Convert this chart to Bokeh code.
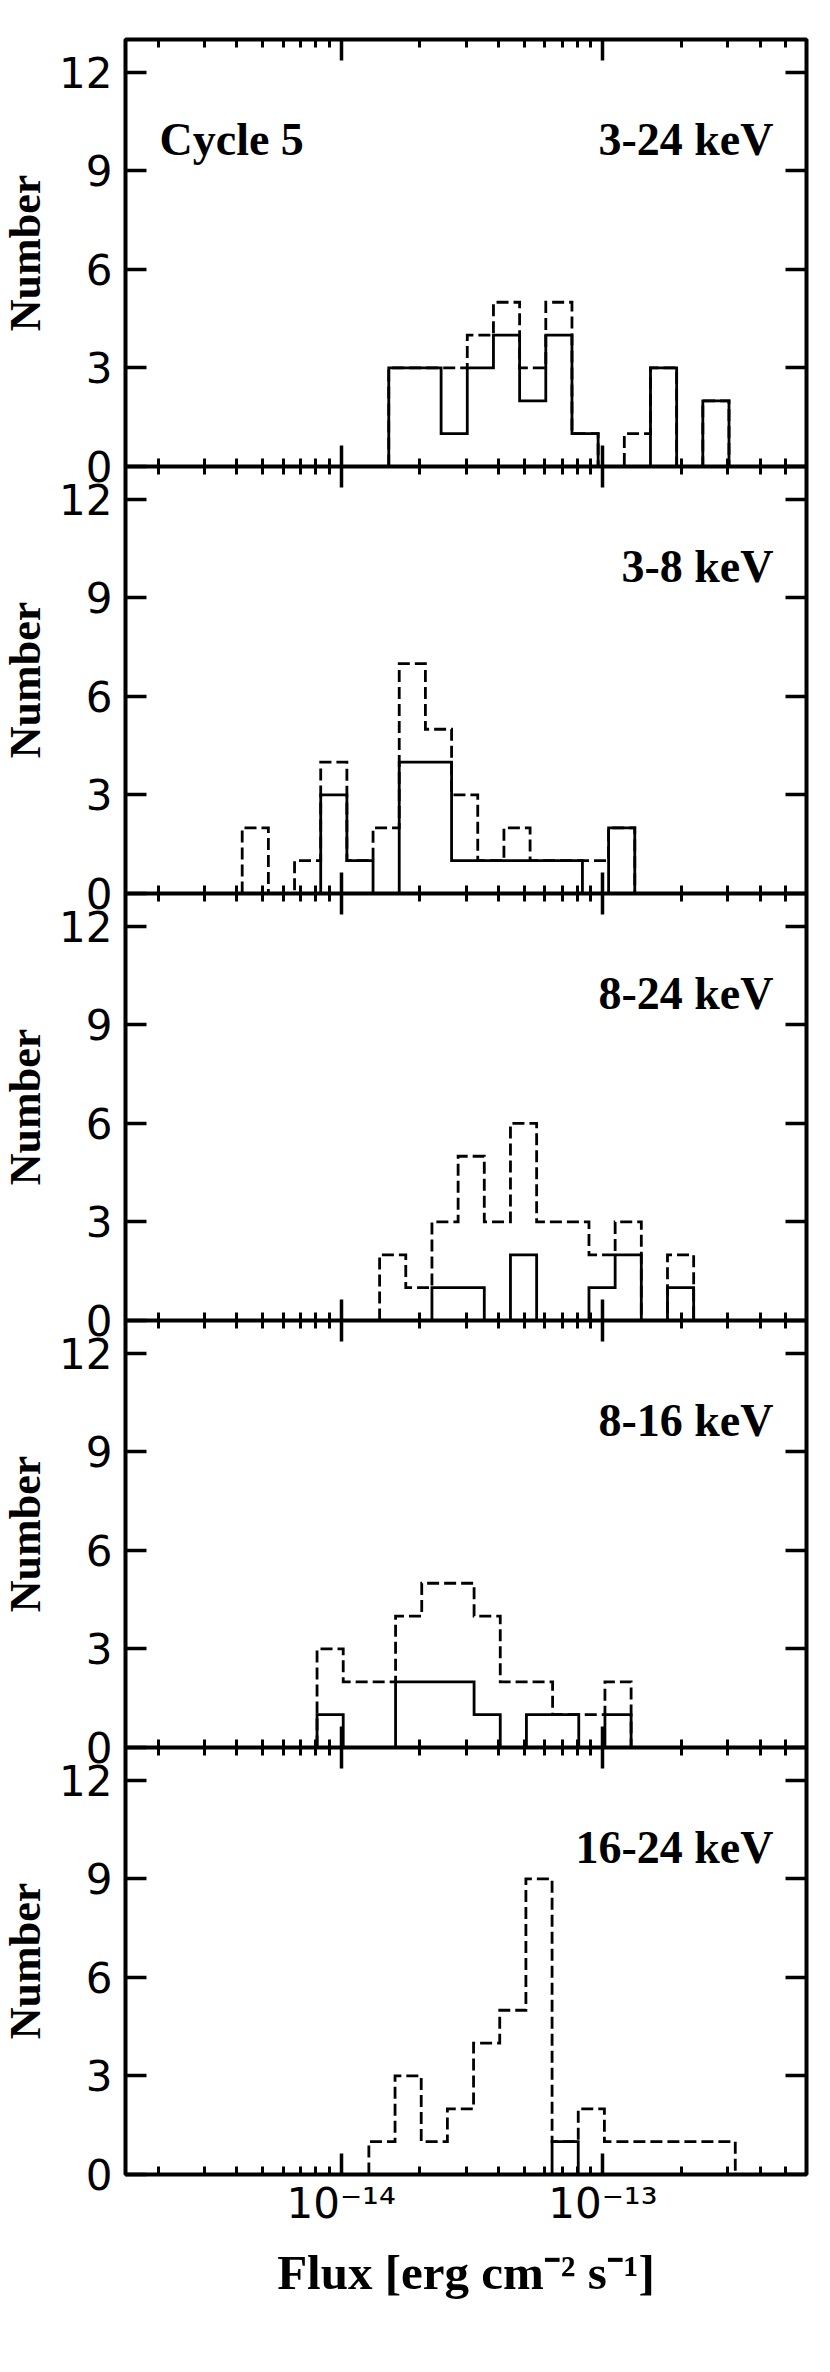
import numpy as np
from bokeh.plotting import figure
from bokeh.models import Range1d, FixedTicker, LogAxis, LinearAxis, Label
from bokeh.layouts import row
from bokeh.embed import file_html
from bokeh.resources import INLINE

# ---------------- data ----------------
x_lo, x_hi = 1.5e-15, 6e-13
y_panel_max = 13
y_ticks = [0, 3, 6, 9, 12]
x_major = [1e-14, 1e-13]
x_minor = [2e-15, 3e-15, 4e-15, 5e-15, 6e-15, 7e-15, 8e-15, 9e-15,
           2e-14, 3e-14, 4e-14, 5e-14, 6e-14, 7e-14, 8e-14, 9e-14,
           2e-13, 3e-13, 4e-13, 5e-13]
x_tick_labels = ["10\u207b\u00b9\u2074", "10\u207b\u00b9\u00b3"]

band_labels = ["3-24 keV", "3-8 keV", "8-24 keV", "8-16 keV", "16-24 keV"]
cycle_label = "Cycle 5"
x_title = "Flux [erg cm\u207b\u00b2 s\u207b\u00b9]"
y_title = "Number"

bin_width_dex = 0.1
first_edge_log = [-13.818, -14.378, -13.853, -14.092, -13.894]

solid_3_24 = [3, 3, 1, 3, 4, 2, 4, 1, 0, 0, 3, 0, 2]
dashed_3_24 = [3, 3, 3, 4, 5, 3, 5, 1, 0, 1, 3, 0, 2]
solid_3_8 = [0, 0, 0, 3, 1, 0, 4, 4, 1, 1, 1, 1, 1, 0, 2]
dashed_3_8 = [2, 0, 1, 4, 1, 2, 7, 5, 3, 1, 2, 1, 1, 1, 2]
solid_8_24 = [0, 0, 1, 1, 0, 2, 0, 0, 1, 2, 0, 1]
dashed_8_24 = [2, 1, 3, 5, 3, 6, 3, 3, 2, 3, 0, 2]
solid_8_16 = [1, 0, 0, 2, 2, 2, 1, 0, 1, 1, 0, 1]
dashed_8_16 = [3, 2, 2, 4, 5, 5, 4, 2, 2, 1, 1, 2]
solid_16_24 = [0, 0, 0, 0, 0, 0, 0, 1, 0, 0, 0, 0, 0, 0]
dashed_16_24 = [1, 3, 1, 2, 4, 5, 9, 1, 2, 1, 1, 1, 1, 1]

solid_all = [solid_3_24, solid_3_8, solid_8_24, solid_8_16, solid_16_24]
dashed_all = [dashed_3_24, dashed_3_8, dashed_8_24, dashed_8_16, dashed_16_24]

# ---------------- layout / style ----------------
n_pan = len(band_labels)
W_SIDE = 55                 # narrow strip holding the rotated "Number" titles
W, MB_L, MB_R = 755, 70, 4  # main figure
MB_T, MB_B = 39, 150
FRAME_H = 427 * n_pan
H = MB_T + FRAME_H + MB_B
FRAME_W = W - MB_L - MB_R
PX_PER_UNIT = FRAME_H / (y_panel_max * n_pan)
FRAME_LEFT_PAGE = 8 + W_SIDE + MB_L

log_lo, log_hi = np.log10(x_lo), np.log10(x_hi)


def x_at_page(px):
    """data x for a page pixel column"""
    return 10 ** (log_lo + (px - FRAME_LEFT_PAGE) / FRAME_W * (log_hi - log_lo))


SERIF = "Liberation Serif"
SANS = "DejaVu Sans"
LW_HIST = 2.8
LW_FRAME = 4
MAJ_LEN, MIN_LEN = 21, 8

p = figure(width=W, height=H, x_axis_type="log",
           x_range=Range1d(x_lo, x_hi), y_range=Range1d(0, y_panel_max * n_pan),
           output_backend="svg", toolbar_location=None,
           min_border_left=MB_L, min_border_right=MB_R,
           min_border_top=MB_T, min_border_bottom=MB_B)
p.xgrid.visible = False
p.ygrid.visible = False
p.outline_line_color = "black"
p.outline_line_width = LW_FRAME
p.background_fill_color = "white"
p.border_fill_color = "white"

xticker = FixedTicker(ticks=x_major, minor_ticks=x_minor)
bases = [(n_pan - 1 - i) * y_panel_max for i in range(n_pan)]
y_all_ticks = [float(b + t) for b in bases for t in y_ticks]
yticker = FixedTicker(ticks=y_all_ticks, minor_ticks=[])
y_overrides = {float(b + t): str(t) for b in bases for t in y_ticks}


def style_x(ax, tick_out):
    ax.ticker = xticker
    ax.axis_line_color = None
    ax.major_tick_in = MAJ_LEN
    ax.major_tick_out = MAJ_LEN if tick_out else 0
    ax.minor_tick_in = MIN_LEN
    ax.minor_tick_out = MIN_LEN if tick_out else 0
    ax.major_tick_line_width = 3.5
    ax.minor_tick_line_width = 3
    ax.major_tick_line_color = "black"
    ax.minor_tick_line_color = "black"


def style_y(ax):
    ax.ticker = yticker
    ax.axis_line_color = None
    ax.major_tick_in = MAJ_LEN
    ax.major_tick_out = 0
    ax.minor_tick_line_color = None
    ax.major_tick_line_width = 3.5
    ax.major_tick_line_color = "black"


# bottom axis with labels
bx = p.xaxis[0]
style_x(bx, False)
bx.major_label_overrides = {x_major[i]: x_tick_labels[i] for i in range(len(x_major))}
bx.major_label_text_font = SANS
bx.major_label_text_font_size = "42px"
bx.major_label_text_color = "black"
bx.major_label_standoff = 4
bx.axis_label = x_title
bx.axis_label_text_font = SERIF
bx.axis_label_text_font_style = "bold"
bx.axis_label_text_font_size = "49px"
bx.axis_label_text_color = "black"
bx.axis_label_standoff = 14

# top axis (ticks only)
tx = LogAxis()
style_x(tx, False)
tx.fixed_location = y_panel_max * n_pan
tx.major_label_text_color = None
p.add_layout(tx, "above")

# internal panel boundaries (ticks both ways)
for b in bases[:-1]:
    ix = LogAxis()
    style_x(ix, True)
    ix.fixed_location = b
    ix.axis_line_color = "black"
    ix.axis_line_width = LW_FRAME
    ix.major_label_text_color = None
    p.add_layout(ix, "below")

# left axis with labels
ly = p.yaxis[0]
style_y(ly)
ly.major_label_overrides = y_overrides
ly.major_label_text_font = SANS
ly.major_label_text_font_size = "42px"
ly.major_label_text_color = "black"
ly.major_label_standoff = 13

# right axis (ticks only)
ry = LinearAxis()
style_y(ry)
ry.fixed_location = x_hi
ry.major_label_text_color = None
p.add_layout(ry, "right")

# histograms and panel labels
for i in range(n_pan):
    b = bases[i]
    for counts, dash in ((dashed_all[i], "12 5"), (solid_all[i], "solid")):
        n = len(counts)
        edges = 10.0 ** (first_edge_log[i] + bin_width_dex * np.arange(n + 1))
        xs, ys = [edges[0]], [b]
        for k, c in enumerate(counts):
            xs += [edges[k], edges[k + 1]]
            ys += [b + c, b + c]
        xs.append(edges[-1])
        ys.append(b)
        p.line(xs, ys, line_color="black", line_width=LW_HIST,
               line_dash=dash, line_join="miter")

    label_y = b + y_panel_max - 100 / PX_PER_UNIT
    p.add_layout(Label(x=x_at_page(781), y=label_y, text=band_labels[i],
                       text_align="right", text_baseline="alphabetic",
                       text_font=SERIF, text_font_style="bold",
                       text_font_size="46px", text_color="black"))
    if i == 0:
        p.add_layout(Label(x=x_at_page(167), y=label_y, text=cycle_label,
                           text_align="left", text_baseline="alphabetic",
                           text_font=SERIF, text_font_style="bold",
                           text_font_size="46px", text_color="black"))

# side strip with the per-panel y titles
s = figure(width=W_SIDE, height=H, x_range=Range1d(0, W_SIDE),
           y_range=Range1d(0, y_panel_max * n_pan),
           x_axis_location=None, y_axis_location=None,
           output_backend="svg", toolbar_location=None,
           min_border_left=0, min_border_right=0,
           min_border_top=MB_T, min_border_bottom=MB_B)
s.xgrid.visible = False
s.ygrid.visible = False
s.outline_line_color = None
s.background_fill_color = "white"
s.border_fill_color = "white"
for i in range(n_pan):
    s.add_layout(Label(x=32.5 - 8, y=bases[i] + y_panel_max / 2, text=y_title,
                       angle=np.pi / 2, text_align="center", text_baseline="middle",
                       text_font=SERIF, text_font_style="bold",
                       text_font_size="44px", text_color="black"))

open("out.html", "w").write(file_html(row(s, p), INLINE))
